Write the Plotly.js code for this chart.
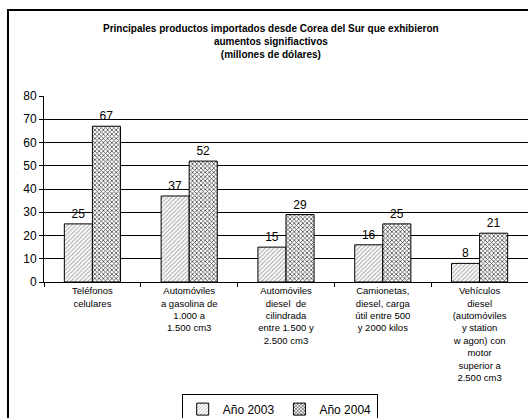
<!DOCTYPE html>
<html><head><meta charset="utf-8">
<script src="https://cdn.plot.ly/plotly-3.0.1.min.js"></script>
<style>html,body{margin:0;padding:0;background:#fff;}#chart{width:528px;height:418px;}</style>
</head><body><div id="chart"></div>
<script>
const categories = [
  "Teléfonos<br>celulares",
  "Automóviles<br>a gasolina de<br>1.000 a<br>1.500 cm3",
  "Automóviles<br>diesel  de<br>cilindrada<br>entre 1.500 y<br>2.500 cm3",
  "Camionetas,<br>diesel, carga<br>útil entre 500<br>y 2000 kilos",
  "Vehículos<br>diesel<br>(automóviles<br>y station<br>w agon) con<br>motor<br>superior a<br>2.500 cm3"
];
const values2003 = [25, 37, 15, 16, 8];
const values2004 = [67, 52, 29, 25, 21];
const seriesNames = ["Año 2003", "Año 2004"];

const font = "Arial, 'Liberation Sans', sans-serif";
const traces = [
  {type:'bar', name:seriesNames[0], x:categories, y:values2003,
   text:values2003.map(String), textposition:'outside', cliponaxis:false,
   textfont:{size:12, color:'#000', family:font},
   marker:{color:'#fff', line:{color:'#000', width:1},
     pattern:{shape:'/', fgcolor:'#aaa', bgcolor:'#fff', size:3, solidity:0.35}}},
  {type:'bar', name:seriesNames[1], x:categories, y:values2004,
   text:values2004.map(String), textposition:'outside', cliponaxis:false,
   textfont:{size:12, color:'#000', family:font},
   marker:{color:'#fff', line:{color:'#000', width:1},
     pattern:{shape:'x', fgcolor:'#444', bgcolor:'#fff', size:3, solidity:0.45}}}
];
const layout = {
  width:528, height:418,
  margin:{l:44, r:0, t:96, b:136, autoexpand:false},
  paper_bgcolor:'#fff', plot_bgcolor:'#fff',
  font:{family:font, color:'#000'},
  title:{text:"<b>Principales productos importados desde Corea del Sur que exhibieron<br>aumentos signifiactivos<br>(millones de dólares)</b>",
    font:{size:10, family:font, color:'#000'}, x:0.513, xanchor:'center', xref:'container',
    y:1-32/418, yanchor:'top', yref:'container'},
  barmode:'group', bargap:0.42, bargroupgap:0,
  showlegend:true,
  legend:{orientation:'h', x:0.487, xanchor:'center', y:-0.6, yanchor:'top',
    bordercolor:'#000', borderwidth:1, bgcolor:'#fff', font:{size:12, family:font},
    itemwidth:30, tracegroupgap:0},
  xaxis:{type:'category', showline:true, linecolor:'#000', linewidth:1,
    ticks:'outside', ticklen:4, tickcolor:'#000', tickson:'boundaries',
    tickfont:{size:9.5, family:font}, showgrid:false, automargin:false},
  yaxis:{range:[0,80], dtick:10, showline:true, linecolor:'#000', linewidth:1,
    ticks:'outside', ticklen:4, tickcolor:'#000', tickfont:{size:12, family:font},
    showgrid:true, gridcolor:'#000', gridwidth:1, zeroline:false, automargin:false},
  shapes:[{type:'rect', xref:'paper', yref:'paper', x0:-0.0744, x1:1.03, y0:-0.8, y1:1.462,
    line:{color:'#000', width:2}, fillcolor:'rgba(0,0,0,0)', layer:'above'}]
};
Plotly.newPlot('chart', traces, layout, {displayModeBar:false, staticPlot:true});
</script></body></html>
